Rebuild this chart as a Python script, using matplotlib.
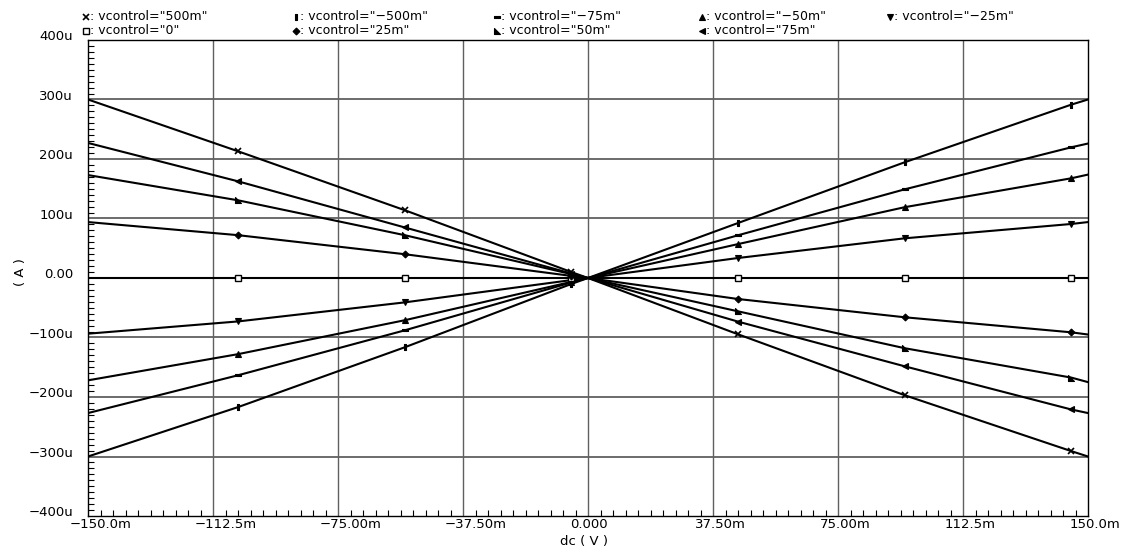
import matplotlib
matplotlib.use("Agg")
import matplotlib.pyplot as plt
from matplotlib.path import Path
from matplotlib.lines import Line2D
from matplotlib.ticker import MultipleLocator, FixedLocator
import matplotlib.transforms as mtransforms

# DC sweep points (mV); interior points carry the markers
vdc_mv = [-150, -105, -55, -5, 0, 45, 95, 145, 150]
marker_idx = [1, 2, 3, 5, 6, 7]

# Output current (uA) for each vcontrol setting
i_500m = [300, 213, 114, 10, 0, -94.6, -197, -291, -300]
i_neg500m = [-300, -217, -116.5, -10, 0, 92.4, 194.5, 291.4, 300]
i_neg75m = [-227, -163.5, -88, -7.5, 0, 71.8, 149, 219.7, 226]
i_neg50m = [-172, -128, -71, -6.5, 0, 57, 119, 167.6, 173.8]
i_neg25m = [-93.6, -73, -41, -3.5, 0, 33.6, 66.7, 90.8, 94]
i_0 = [0, 0, 0, 0, 0, 0, 0, 0, 0]
i_25m = [94, 72, 40, 3.5, 0, -35.3, -66, -91.3, -95]
i_50m = [173, 130.6, 72, 6.5, 0, -56, -118, -167.4, -175]
i_75m = [227, 162.5, 85, 7.5, 0, -73.3, -148.4, -221, -227]

series_labels = ['"500m"', '"\u2212500m"', '"\u221275m"', '"\u221250m"', '"\u221225m"',
                 '"0"', '"25m"', '"50m"', '"75m"']
series_values = [i_500m, i_neg500m, i_neg75m, i_neg50m, i_neg25m,
                 i_0, i_25m, i_50m, i_75m]

x_ticks = [-150, -112.5, -75, -37.5, 0, 37.5, 75, 112.5, 150]
x_ticklabels = ["\u2212150.0m", "\u2212112.5m", "\u221275.00m", "\u221237.50m", "0.000",
                "37.50m", "75.00m", "112.5m", "150.0m"]
y_ticks = [-400, -300, -200, -100, 0, 100, 200, 300, 400]
y_ticklabels = ["\u2212400u", "\u2212300u", "\u2212200u", "\u2212100u", "0.00",
                "100u", "200u", "300u", "400u"]

# marker shapes
vbar = Path([(-0.35, -1), (0.35, -1), (0.35, 1), (-0.35, 1), (-0.35, -1)],
            [Path.MOVETO, Path.LINETO, Path.LINETO, Path.LINETO, Path.CLOSEPOLY])
hbar = Path([(-1, -0.35), (1, -0.35), (1, 0.35), (-1, 0.35), (-1, -0.35)],
            [Path.MOVETO, Path.LINETO, Path.LINETO, Path.LINETO, Path.CLOSEPOLY])
corner_tri = Path([(-1, 1), (-1, -1), (1, -1), (-1, 1)],
                  [Path.MOVETO, Path.LINETO, Path.LINETO, Path.CLOSEPOLY])

styles = [
    dict(marker="x", ms=4.5, mew=1.2, mfc="black"),
    dict(marker=vbar, ms=5, mew=0.8, mfc="black"),
    dict(marker=hbar, ms=5, mew=0.8, mfc="black"),
    dict(marker="^", ms=4.5, mew=0.8, mfc="black"),
    dict(marker="v", ms=4.5, mew=0.8, mfc="black"),
    dict(marker="s", ms=4, mew=1.0, mfc="white"),
    dict(marker="D", ms=3.5, mew=0.8, mfc="black"),
    dict(marker=corner_tri, ms=4.5, mew=0.8, mfc="black"),
    dict(marker="<", ms=4.5, mew=0.8, mfc="black"),
]

W, H = 1124, 548
fig = plt.figure(figsize=(W / 100, H / 100), dpi=100)
plt.rcParams["font.family"] = ["DejaVu Sans"]

left, right, top, bottom = 88, 1088, 40, 516
ax = fig.add_axes([left / W, 1 - bottom / H, (right - left) / W, (bottom - top) / H])

grid_color = "#606060"
for xv in x_ticks[1:-1]:
    ax.axvline(xv, color=grid_color, lw=1.0, zorder=1)
for yv in y_ticks[1:-1]:
    ax.axhline(yv, color=grid_color, lw=1.3, zorder=1)

for vals, st in zip(series_values, styles):
    ax.plot(vdc_mv, vals, color="black", lw=1.5, zorder=3,
            markevery=marker_idx, mec="black", **st)

ax.set_xlim(-150, 150)
ax.set_ylim(-400, 400)

ax.xaxis.set_major_locator(FixedLocator(x_ticks))
ax.xaxis.set_minor_locator(MultipleLocator(3.75))
ax.yaxis.set_major_locator(FixedLocator(y_ticks))
ax.yaxis.set_minor_locator(MultipleLocator(10))
ax.set_xticklabels(x_ticklabels)
ax.set_yticklabels(y_ticklabels)

ax.tick_params(axis="both", which="both", direction="in", colors="black",
               top=False, right=False)
ax.tick_params(axis="x", which="major", length=0, pad=1.5, labelsize=9.5)
ax.tick_params(axis="x", which="minor", length=4, width=0.8)
ax.tick_params(axis="y", which="major", length=0, pad=10.8, labelsize=9.5)
ax.tick_params(axis="y", which="minor", length=4, width=0.8)

for lab in ax.get_xticklabels():
    lab.set_horizontalalignment("left")
    lab.set_transform(lab.get_transform() +
                      mtransforms.ScaledTranslation(-18 / 100, 0, fig.dpi_scale_trans))
for lab in ax.get_yticklabels():
    lab.set_transform(lab.get_transform() +
                      mtransforms.ScaledTranslation(0, 4.5 / 100, fig.dpi_scale_trans))

for sp in ax.spines.values():
    sp.set_color("black")
    sp.set_linewidth(1.0)

# axis titles
fig.text(20 / W, 1 - 272 / H, "( A )", rotation=90, ha="center", va="center", fontsize=9.5)
fig.text(560 / W, 1 - 541 / H, "dc ( V )", ha="left", va="center", fontsize=9.5)

# legend rows across the top
col_x = [86, 296, 497, 702, 890]
row_y = [17, 31]
for k, (lab, st) in enumerate(zip(series_labels, styles)):
    r, c = divmod(k, 5)
    mx, my = col_x[c], row_y[r]
    fig.add_artist(Line2D([mx / W], [1 - my / H], transform=fig.transFigure,
                          color="black", mec="black", ls="none", **st))
    fig.text((mx + 4) / W, 1 - my / H, ": vcontrol=" + lab, ha="left", va="center",
             fontsize=9)

fig.savefig("out.png", dpi=100)
